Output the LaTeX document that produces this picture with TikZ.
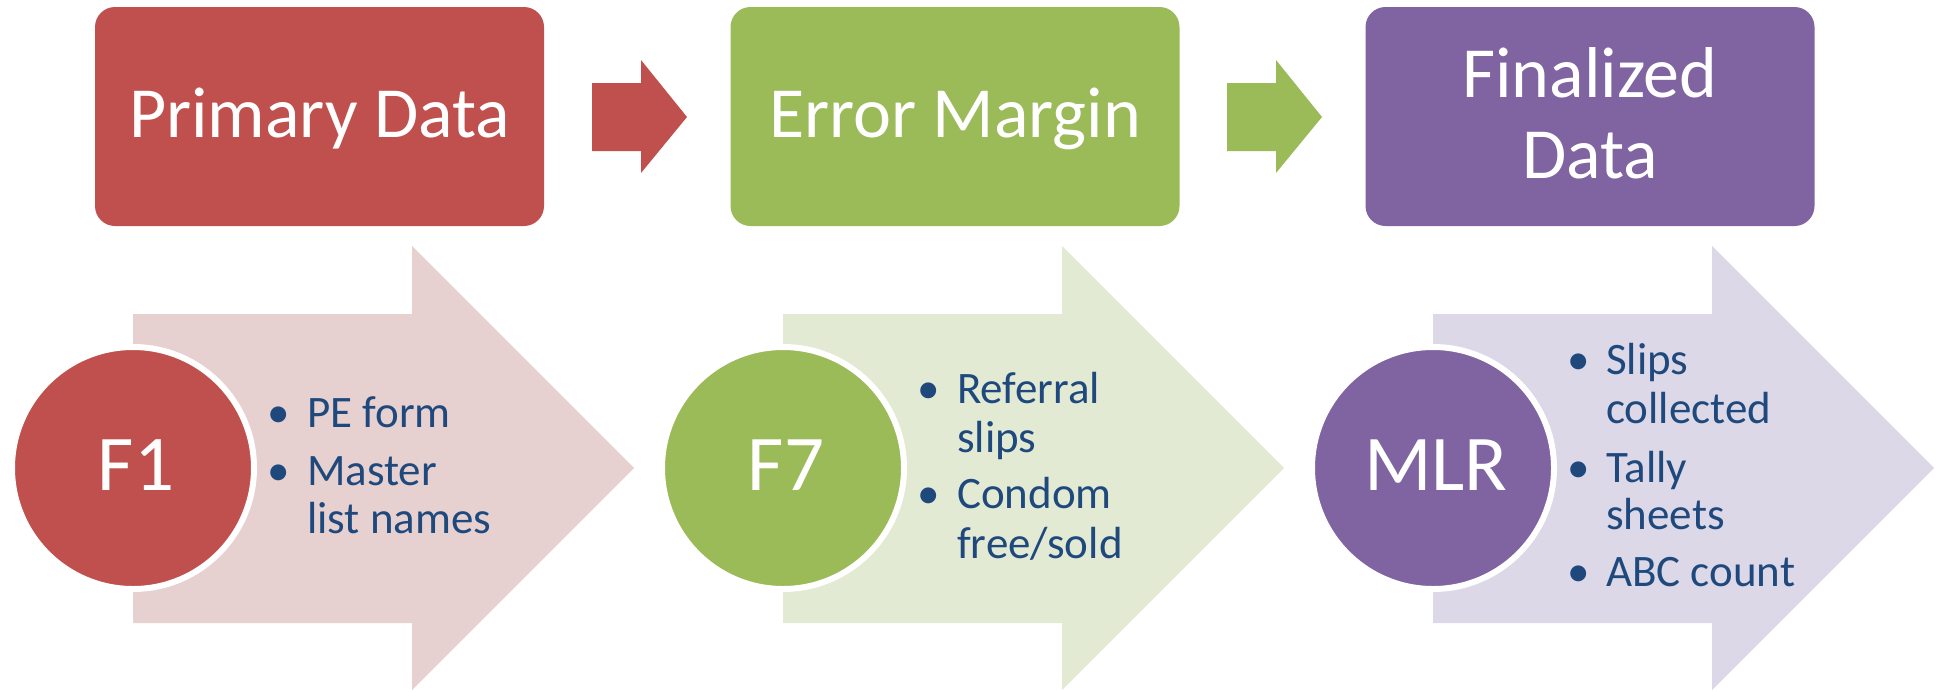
\documentclass[tikz,border=0pt]{standalone}
\usepackage{fontspec}
\setmainfont{Carlito}
\definecolor{cred}{HTML}{C0504D}
\definecolor{cgreen}{HTML}{9BBB59}
\definecolor{cpurple}{HTML}{8064A2}
\definecolor{pred}{HTML}{E7D0D0}
\definecolor{pgreen}{HTML}{E2EAD4}
\definecolor{ppurple}{HTML}{DCD8E7}
\definecolor{ctext}{HTML}{1F497D}
\begin{document}
\begin{tikzpicture}[x=1pt,y=-1pt,
  topbox/.style={rectangle, rounded corners=20pt, minimum width=449pt, minimum height=219pt, inner sep=0pt, draw=none},
  headtxt/.style={inner sep=0pt, anchor=base, text=white, font=\fontsize{72}{86}\selectfont},
  circnode/.style={circle, minimum size=242pt, inner sep=0pt, draw=white, line width=6pt},
  circtxt/.style={inner sep=0pt, anchor=base, text=white, font=\fontsize{79}{95}\selectfont},
  bultxt/.style={inner sep=0pt, anchor=base west, text=ctext, font=\fontsize{45}{52}\selectfont},
  bulmark/.style={inner sep=0pt, anchor=base, text=ctext, font=\fontsize{45}{52}\selectfont}
]
\useasboundingbox (0,0) rectangle (1937,691);

% top boxes
\node[topbox, fill=cred] (pd) at (319.5,116.5) {};
\node[topbox, fill=cgreen] (em) at (955,116.5) {};
\node[topbox, fill=cpurple] (fd) at (1590,116.5) {};
\node[headtxt] (pdt) at (319.5,137) {Primary Data};
\node[headtxt] (emt) at (955,137) {Error Margin};
\node[headtxt] (fdt1) at (1590,97) {Finalized};
\node[headtxt] (fdt2) at (1590,178) {Data};

% small block arrows
\fill[cred] (592,83) -- (641,83) -- (641,60) -- (687,117) -- (641,173) -- (641,151) -- (592,151) -- cycle;
\fill[cgreen] (1227,83) -- (1276,83) -- (1276,60) -- (1322,117) -- (1276,173) -- (1276,151) -- (1227,151) -- cycle;

% big pale arrows
\fill[pred] (133,314) -- (412,314) -- (412,246) -- (634,468) -- (412,690) -- (412,623) -- (133,623) -- cycle;
\fill[pgreen] (783,314) -- (1062,314) -- (1062,246) -- (1284,468) -- (1062,690) -- (1062,623) -- (783,623) -- cycle;
\fill[ppurple] (1433,314) -- (1712,314) -- (1712,246) -- (1934,468) -- (1712,690) -- (1712,623) -- (1433,623) -- cycle;

% circles
\node[circnode, fill=cred] (f1) at (133,468) {};
\node[circnode, fill=cgreen] (f7) at (783,468) {};
\node[circnode, fill=cpurple] (mlr) at (1433,468) {};
\node[circtxt] (f1t) at (136,490) {F1};
\node[circtxt] (f7t) at (786,490) {F7};
\node[circtxt] (mlrt) at (1436,490) {MLR};

% F1 bullets
\node[bulmark] (b11) at (279,427) {•};
\node[bultxt] (t11) at (307,427) {PE form};
\node[bulmark] (b12) at (279,485) {•};
\node[bultxt] (t12) at (307,485) {Master};
\node[bultxt] (t13) at (307,533) {list names};

% F7 bullets
\node[bulmark] (b21) at (929,403) {•};
\node[bultxt] (t21) at (957,403) {Referral};
\node[bultxt] (t22) at (957,452) {slips};
\node[bulmark] (b22) at (929,508) {•};
\node[bultxt] (t23) at (957,508) {Condom};
\node[bultxt] (t24) at (957,558) {free/sold};

% MLR bullets
\node[bulmark] (b31) at (1579,374) {•};
\node[bultxt] (t31) at (1606,374) {Slips};
\node[bultxt] (t32) at (1606,423) {collected};
\node[bulmark] (b32) at (1579,482) {•};
\node[bultxt] (t33) at (1606,482) {Tally};
\node[bultxt] (t34) at (1606,529) {sheets};
\node[bulmark] (b33) at (1579,586) {•};
\node[bultxt] (t35) at (1606,586) {ABC count};
\end{tikzpicture}
\end{document}
